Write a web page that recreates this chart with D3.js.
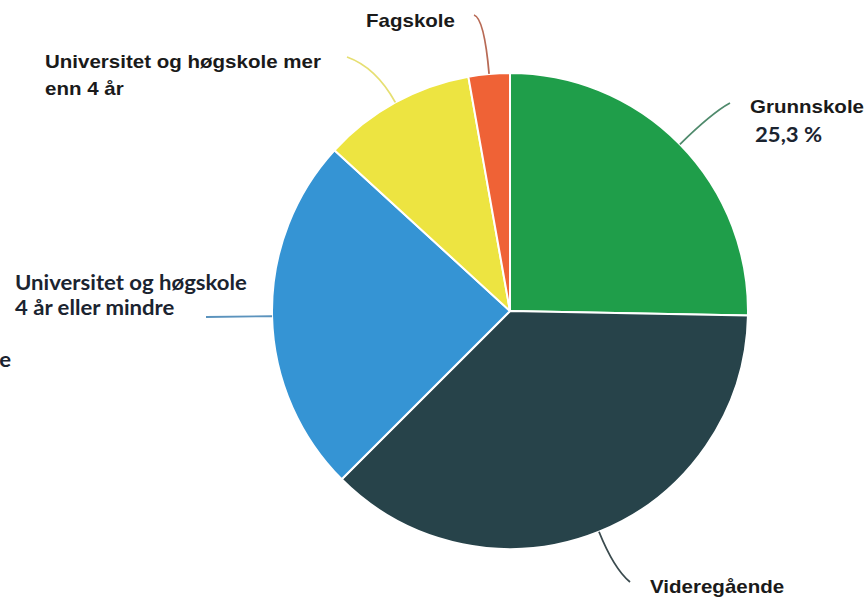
<!DOCTYPE html>
<html>
<head>
<meta charset="utf-8">
<script src="https://cdn.jsdelivr.net/npm/d3@7"></script>
<style>
    html, body { margin: 0; padding: 0; background: #fff; }
    svg { display: block; }
</style>
</head>
<body>
<div id="chart"></div>
<script>
(function () {
    const categories = [
        'Grunnskole',
        'Videregående',
        'Universitet og høgskole 4 år eller mindre',
        'Universitet og høgskole mer enn 4 år',
        'Fagskole',
    ];
    const shares = [25.3, 37.2, 24.3, 10.4, 2.8];
    const colours = ['#1f9e4a', '#27434a', '#3594d4', '#ede441', '#ef6236'];
    const lineColours = ['#4f8a6c', '#3a4a4e', '#5b93bd', '#e6df72', '#b86a55'];

    const labelLines = [
        ['Grunnskole'],
        ['Videregående'],
        ['Universitet og høgskole', '4 år eller mindre'],
        ['Universitet og høgskole mer', 'enn 4 år'],
        ['Fagskole'],
    ];

    const [width, height] = [866, 598];
    const [cx, cy, radius] = [510, 311, 238];

    // the screenshot text is a bit stretched sideways
    const arial = { family: '"Liberation Sans", Arial, sans-serif', size: 18, sx: 1.14, fill: '#1a1a1a' };
    const calibri = { family: 'Lato, "Open Sans", sans-serif', size: 20.5, sx: 1.08, fill: '#1b2430' };

    const layout = [
        { x: 750, y: 113, font: arial, end: [730, 103], ext: 45, value: true },
        { x: 650, y: 593, font: arial, end: [630, 582], ext: 40 },
        { x: 15, y: 290, font: calibri, lh: 25, end: [206, 317], ext: 0 },
        { x: 45, y: 68, font: arial, lh: 27, end: [347, 57], ext: 40 },
        { x: 366, y: 27, font: arial, end: [474, 15], ext: 56 },
    ];

    const data = categories.map((c, i) => ({ label: c, value: shares[i], i: i }));

    const svg = d3.select('#chart')
                  .append('svg')
                  .attr('width', width)
                  .attr('height', height)
                  .attr('viewBox', `0 0 ${width} ${height}`);

    const g = svg.append('g')
                 .attr('transform', `translate(${cx}, ${cy})`);

    const pie = d3.pie()
                  .sort(null)
                  .value(d => d.value);
    const arcs = pie(data);

    const arc = d3.arc()
                  .innerRadius(0)
                  .outerRadius(radius);
    const edge = d3.arc()
                   .innerRadius(radius)
                   .outerRadius(radius);

    g.selectAll('path.slice')
     .data(arcs)
     .enter()
     .append('path')
     .attr('class', 'slice')
     .attr('d', arc)
     .attr('fill', d => colours[d.data.i])
     .attr('stroke', '#fff')
     .attr('stroke-width', 2)
     .attr('stroke-linejoin', 'round');

    // leader lines
    g.selectAll('path.leader')
     .data(arcs)
     .enter()
     .append('path')
     .attr('class', 'leader')
     .attr('d', d => {
         const l = layout[d.data.i];
         const [sx, sy] = edge.centroid(d);
         const mid = (d.startAngle + d.endAngle) / 2;
         const ex = l.end[0] - cx, ey = l.end[1] - cy;
         let qx, qy;
         if (l.ext > 0) {
             qx = Math.sin(mid) * (radius + l.ext);
             qy = -Math.cos(mid) * (radius + l.ext);
         } else {
             qx = (sx + ex) / 2;
             qy = (sy + ey) / 2;
         }
         return `M${sx},${sy}Q${qx},${qy} ${ex},${ey}`;
     })
     .attr('fill', 'none')
     .attr('stroke', d => lineColours[d.data.i])
     .attr('stroke-width', 1.8);

    function addText(x, y, font, lines, lh) {
        const t = svg.append('text')
                     .attr('transform', `translate(${x}, ${y}) scale(${font.sx}, 1)`)
                     .attr('font-family', font.family)
                     .attr('font-weight', 'bold')
                     .attr('font-size', font.size)
                     .attr('fill', font.fill);
        lines.forEach((line, k) => {
            t.append('tspan')
             .attr('x', 0)
             .attr('y', k * (lh || 0))
             .text(line);
        });
        return t;
    }

    data.forEach(d => {
        const l = layout[d.i];
        addText(l.x, l.y, l.font, labelLines[d.i], l.lh);
        if (l.value) {
            addText(l.x + 5, l.y + 29, calibri, [d.value.toFixed(1).replace('.', ',') + ' %']);
        }
    });

    // cut-off label fragment at the left edge
    addText(11, 367, calibri, ['e']).attr('text-anchor', 'end');
})();
</script>
</body>
</html>
